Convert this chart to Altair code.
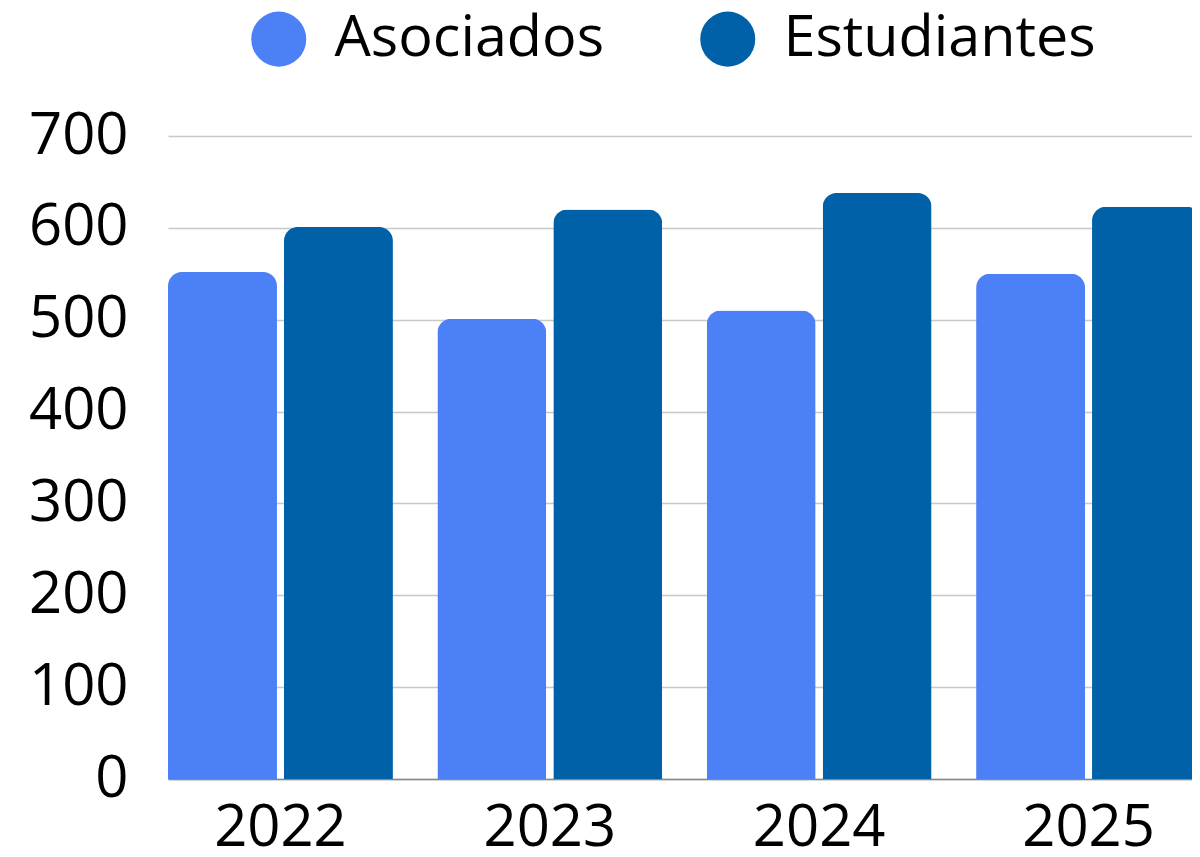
import altair as alt
import pandas as pd

years = ["2022", "2023", "2024", "2025"]
asociados = [552, 501, 510, 550]
estudiantes = [601, 620, 638, 623]
series = ["Asociados", "Estudiantes"]
colors = ["#4B80F6", "#0061A8"]

rows = []
for i, y in enumerate(years):
    rows.append({"year": y, "serie": series[0], "value": asociados[i]})
    rows.append({"year": y, "serie": series[1], "value": estudiantes[i]})
df = pd.DataFrame(rows)

FONT = "Open Sans"

chart = alt.Chart(df).mark_bar(
    cornerRadiusTopLeft=14, cornerRadiusTopRight=14
).encode(
    x=alt.X("year:N", sort=years, title=None,
            scale=alt.Scale(paddingInner=0.165, paddingOuter=0, range=[0, 1033]),
            axis=alt.Axis(labelAngle=0, ticks=False, domain=True, domainColor="#888888",
                          domainWidth=1.5, labelFontSize=58, labelFont=FONT,
                          labelColor="#000000", labelPadding=20, grid=False)),
    xOffset=alt.XOffset("serie:N", sort=series,
                        scale=alt.Scale(paddingInner=0.06, paddingOuter=0)),
    y=alt.Y("value:Q", title=None,
            scale=alt.Scale(domain=[0, 700], nice=False),
            axis=alt.Axis(values=[0, 100, 200, 300, 400, 500, 600, 700], ticks=False,
                          domain=False, labelFontSize=58, labelFont=FONT,
                          labelColor="#000000", labelPadding=40,
                          gridColor="#C8C8C8", gridWidth=1.5)),
    color=alt.Color("serie:N", sort=series,
                    scale=alt.Scale(domain=series, range=colors),
                    legend=alt.Legend(title=None, orient="none", direction="horizontal",
                                      legendX=82, legendY=-126,
                                      symbolType="circle", symbolSize=3025,
                                      symbolStrokeWidth=0,
                                      labelFontSize=57.5, labelFont=FONT,
                                      labelColor="#000000", labelOffset=27,
                                      columnPadding=94, labelLimit=0)),
).properties(
    width=1024, height=643,
    autosize=alt.AutoSizeParams(type="none"),
    padding={"left": 160, "top": 128, "right": 0, "bottom": 70},
).configure_view(stroke=None)

chart.save("out.html", embed_options={"renderer": "svg", "actions": False})
